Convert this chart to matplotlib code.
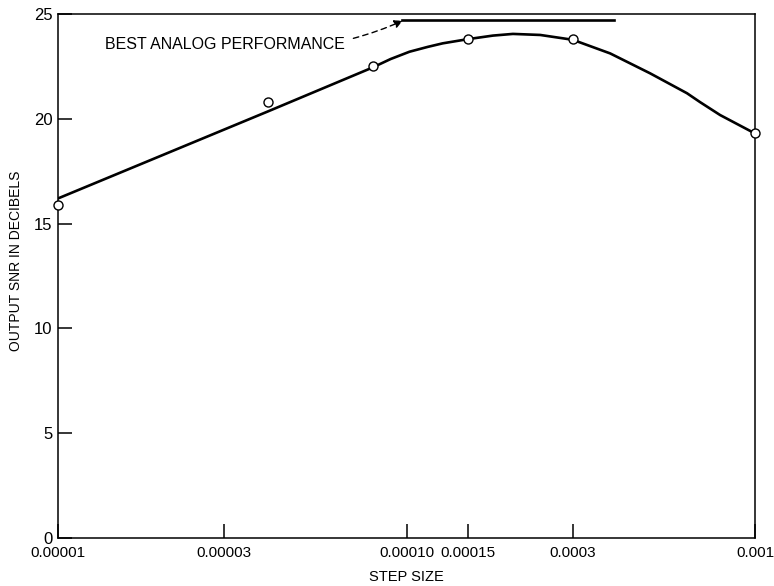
import matplotlib
matplotlib.use("Agg")
import matplotlib.pyplot as plt
from matplotlib.ticker import NullLocator, FixedLocator, FixedFormatter

plt.rcParams['font.family'] = ['Liberation Sans', 'DejaVu Sans']

# measured points
step_pts = [0.00001, 0.00004, 0.00008, 0.00015, 0.0003, 0.001]
snr_pts = [15.9, 20.8, 22.5, 23.8, 23.8, 19.3]

# smooth fitted curve
step_curve = [0.00001, 0.00004, 0.00008, 0.00009, 0.000102, 0.000115, 0.000127,
              0.00015, 0.000177, 0.000202, 0.000242, 0.0003, 0.000384,
              0.0005, 0.000638, 0.000695, 0.000794, 0.001]
snr_curve = [16.2, 20.35, 22.45, 22.85, 23.2, 23.43, 23.6,
             23.8, 23.97, 24.05, 24.0, 23.77, 23.12,
             22.17, 21.22, 20.8, 20.18, 19.3]

# best analog performance reference
analog_x = [0.000097, 0.000394]
analog_y = [24.73, 24.73]

xticks = [0.00001, 0.00003, 0.0001, 0.00015, 0.0003, 0.001]
xticklabels = ["0.00001", "0.00003", "0.00010", "0.00015", "0.0003", "0.001"]
yticks = [0, 5, 10, 15, 20, 25]

fig = plt.figure(figsize=(7.74, 5.86), dpi=100)
ax = fig.add_axes([58/774, 1-538/586, (755-58)/774, (538-14)/586])

ax.plot(step_curve, snr_curve, color='black', lw=1.9, zorder=2,
        solid_joinstyle='round')
ax.plot(step_pts, snr_pts, linestyle='none', marker='o', ms=6.5,
        mfc='white', mec='black', mew=1.0, zorder=3, clip_on=False)
ax.plot(analog_x, analog_y, color='black', lw=1.9)

ax.set_xscale('log')
ax.set_xlim(0.00001, 0.001)
ax.set_ylim(0, 25)
ax.xaxis.set_major_locator(FixedLocator(xticks))
ax.xaxis.set_major_formatter(FixedFormatter(xticklabels))
ax.xaxis.set_minor_locator(NullLocator())
ax.set_yticks(yticks)

ax.tick_params(axis='both', direction='in', length=10, width=1.1,
               color='black')
ax.tick_params(axis='x', pad=6, labelsize=11)
ax.tick_params(axis='y', pad=4, labelsize=12)
for s in ax.spines.values():
    s.set_linewidth(1.1)

ax.set_xlabel("STEP SIZE", fontsize=10.5, labelpad=7)
ax.set_ylabel("OUTPUT SNR IN DECIBELS", fontsize=10)
ax.yaxis.set_label_coords(-0.050, 0.529)

ax.annotate("BEST ANALOG PERFORMANCE", xy=(0.0000975, 24.68),
            xytext=(0.0000667, 23.55), textcoords='data',
            fontsize=11.5, ha='right', va='center',
            arrowprops=dict(arrowstyle='-|>', linestyle=(0, (4, 3)),
                            color='black', lw=1.0, mutation_scale=12,
                            connectionstyle='arc3,rad=0.15',
                            shrinkA=4, shrinkB=0))

fig.savefig("out.png", dpi=100)
